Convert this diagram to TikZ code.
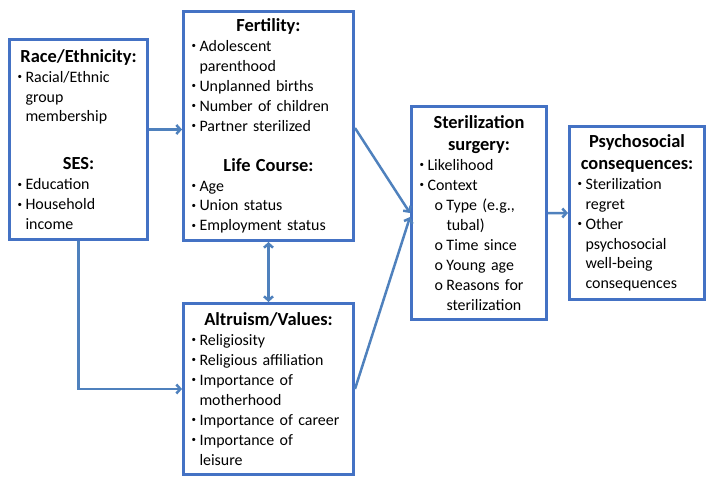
\documentclass[tikz,border=0pt]{standalone}
\usepackage{fontspec}
\setmainfont{Carlito}
\usetikzlibrary{positioning,arrows.meta}
\definecolor{boxblue}{HTML}{4472C4}
\definecolor{linkblue}{HTML}{4F81BD}
\newcommand{\dotmark}{\raisebox{0.35ex}{\fontsize{9}{9}\selectfont\textbullet}}
\newcommand{\bitem}[1]{\par\noindent\hangindent=8bp\hangafter=1\makebox[8bp][l]{\dotmark}#1\par}
\newcommand{\sitem}[1]{\par\noindent\hangindent=27bp\hangafter=1\hspace*{15bp}\makebox[12bp][l]{o}#1\par}
\newcommand{\boxhead}[1]{{\centering\fontsize{18.5}{22}\selectfont\bfseries #1\par}}

\begin{document}
\begin{tikzpicture}[
    x=1bp, y=-1bp,
    factor/.style={rectangle, draw=boxblue, line width=3bp, anchor=north west,
        inner xsep=8bp, inner ysep=0pt, align=left,
        font=\fontsize{16}{20}\selectfont},
    arrow/.style={-{Straight Barb[length=4bp,width=9bp]}, draw=linkblue, line width=2.5bp},
    twoway/.style={{Straight Barb[length=4bp,width=9bp]}-{Straight Barb[length=4bp,width=9bp]}, draw=linkblue, line width=2.5bp}
]
    \useasboundingbox (0,0) rectangle (714,485);

    \node[factor, text width=122bp, minimum height=200bp] (race) at (8,38) {%
        \boxhead{Race/Ethnicity:}
        \bitem{Racial/Ethnic\newline group\newline membership}
        \vspace{26bp}
        \boxhead{SES:}
        \bitem{Education}
        \bitem{Household\newline income}};
    \node[factor, text width=154bp, minimum height=229bp] (fert) at (182,10) {%
        \boxhead{Fertility:}
        \bitem{Adolescent\newline parenthood}
        \bitem{Unplanned births}
        \bitem{Number of children}
        \bitem{Partner sterilized}
        \vspace{18bp}
        \boxhead{Life Course:}
        \bitem{Age}
        \bitem{Union status}
        \bitem{Employment status}};
    \node[factor, text width=154bp, minimum height=171bp] (altr) at (182,302) {%
        \boxhead{Altruism/Values:}
        \bitem{Religiosity}
        \bitem{Religious affiliation}
        \bitem{Importance of\newline motherhood}
        \bitem{Importance of career}
        \bitem{Importance of\newline leisure}};
    \node[factor, text width=119bp, minimum height=213bp] (ster) at (410,105) {%
        \boxhead{Sterilization\\surgery:}
        \bitem{Likelihood}
        \bitem{Context}
        \sitem{Type (e.g.,\newline tubal)}
        \sitem{Time since}
        \sitem{Young age}
        \sitem{Reasons for\newline sterilization}};
    \node[factor, text width=119bp, minimum height=173bp] (psych) at (568,125) {%
        \boxhead{Psychosocial\\consequences:}
        \bitem{Sterilization\newline regret}
        \bitem{Other\newline psychosocial\newline well-being\newline consequences}};

    \draw[arrow] ([yshift=10bp]race.east) -- ([yshift=10bp]race.east -| fert.west);
    \draw[arrow] (race.south) -- (race.south |- altr.west) -- (altr.west);
    \draw[twoway] (fert.south) -- (altr.north);
    \draw[arrow] ([yshift=-2bp]fert.east) -- (ster.west);
    \draw[arrow] (altr.east) -- ([yshift=-4bp]ster.west);
    \draw[arrow] (ster.east) -- (psych.west);
\end{tikzpicture}
\end{document}
